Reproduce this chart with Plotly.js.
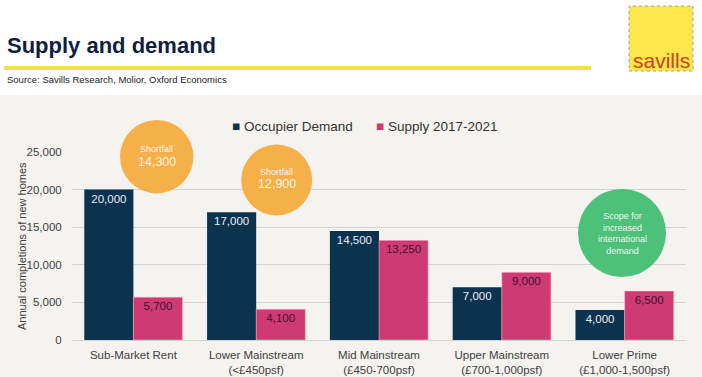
<!DOCTYPE html>
<html>
<head>
<meta charset="utf-8">
<script src="https://cdn.plot.ly/plotly-3.0.1.min.js"></script>
<style>html,body{margin:0;padding:0;background:#fff;}#chart{width:702px;height:377px;}</style>
</head>
<body>
<div id="chart"></div>
<script>
// ---- Data ----
var categories = ["Sub-Market Rent", "Lower Mainstream<br>(<£450psf)", "Mid Mainstream<br>(£450-700psf)", "Upper Mainstream<br>(£700-1,000psf)", "Lower Prime<br>(£1,000-1,500psf)"];
var seriesNames = ["Occupier Demand", "Supply 2017-2021"];
var occupierDemand = [20000, 17000, 14500, 7000, 4000];
var supply = [5700, 4100, 13250, 9000, 6500];
var yTicks = [0, 5000, 10000, 15000, 20000, 25000];
var shortfallValues = [14300, 12900];

// ---- Layout geometry helpers (pixels -> paper) ----
var W = 702, H = 377, ML = 72, MR = 16, MT = 152, MB = 37;
var PW = W - ML - MR, PH = H - MT - MB;
function X(px) { return (px - ML) / PW; }
function Y(py) { return (MT + PH - py) / PH; }

var navy = "#0b3350", pink = "#d03a72", orange = "#f5b04a", green = "#4dc07a";
var font = "Liberation Sans, Arial, sans-serif";

function fmt(v) { return v.toLocaleString("en-GB"); }

var traces = [
  {
    type: "bar", name: seriesNames[0], x: categories, y: occupierDemand,
    marker: {color: navy},
    text: occupierDemand.map(fmt), textposition: "inside", insidetextanchor: "end",
    textangle: 0, constraintext: "none",
    textfont: {family: font, size: 11.5, color: "#e8eef2"},
    hoverinfo: "y"
  },
  {
    type: "bar", name: seriesNames[1], x: categories, y: supply,
    marker: {color: pink, line: {color: "rgba(255,200,215,0.6)", width: 0.8}},
    text: supply.map(fmt), textposition: "inside", insidetextanchor: "end",
    textangle: 0, constraintext: "none",
    textfont: {family: font, size: 11.5, color: "#3b1530"},
    hoverinfo: "y"
  }
];

function circle(cx, cy, r, color) {
  return {
    type: "circle", xref: "paper", yref: "paper",
    xsizemode: "pixel", ysizemode: "pixel",
    xanchor: X(cx), yanchor: Y(cy),
    x0: -r, x1: r, y0: -r, y1: r,
    fillcolor: color, line: {width: 0}, layer: "above"
  };
}

function ann(text, px, py, opts) {
  var a = {
    text: text, xref: "paper", yref: "paper", x: X(px), y: Y(py),
    showarrow: false, xanchor: "center", yanchor: "middle",
    font: {family: font, size: 12, color: "#333"}
  };
  for (var k in opts) a[k] = opts[k];
  return a;
}

var shapes = [
  // beige chart background
  {type: "rect", xref: "paper", yref: "paper", x0: X(0), x1: X(W), y0: Y(H), y1: Y(95),
   fillcolor: "#f5f3ef", line: {width: 0}, layer: "below"},
  // yellow rule under title
  {type: "rect", xref: "paper", yref: "paper", x0: X(4), x1: X(591), y0: Y(70), y1: Y(66),
   fillcolor: "#f6df4c", line: {width: 0}, layer: "below"},
  // savills logo box
  {type: "rect", xref: "paper", yref: "paper", x0: X(629), x1: X(693), y0: Y(71), y1: Y(6),
   fillcolor: "#fde64b", line: {color: "#a0a0a0", width: 1, dash: "dot"}, layer: "below"},
  circle(156.7, 156.7, 36.7, orange),
  circle(276.7, 180, 35.5, orange),
  circle(622, 233, 44, green)
];

var annotations = [
  ann("<b>Supply and demand</b>", 5, 45, {xanchor: "left", font: {family: font, size: 22, color: "#0f1f3d"}}),
  ann("Source: Savills Research, Molior, Oxford Economics", 5, 80, {xanchor: "left", font: {family: font, size: 9.5, color: "#222"}}),
  ann("savills", 661, 60, {font: {family: font, size: 21, color: "#c9431c"}}),
  // legend
  ann('<span style="color:' + navy + '">■</span> ' + seriesNames[0], 230, 127, {xanchor: "left", font: {family: font, size: 13.5, color: "#333"}}),
  ann('<span style="color:' + pink + '">■</span> ' + seriesNames[1], 374, 127, {xanchor: "left", font: {family: font, size: 13.5, color: "#333"}}),
  // y axis title
  ann("Annual completions of new homes", 22, 246, {textangle: -90, font: {family: font, size: 11, color: "#404040"}}),
  // circle texts
  ann("Shortfall", 156.7, 149, {font: {family: font, size: 9, color: "rgba(255,255,255,0.9)"}}),
  ann(fmt(shortfallValues[0]), 156.7, 162, {font: {family: font, size: 12.5, color: "rgba(255,255,255,0.9)"}}),
  ann("Shortfall", 276.7, 172, {font: {family: font, size: 9, color: "rgba(255,255,255,0.9)"}}),
  ann(fmt(shortfallValues[1]), 276.7, 184, {font: {family: font, size: 12.5, color: "rgba(255,255,255,0.9)"}}),
  ann("Scope for<br>increased<br>international<br>demand", 622, 233, {font: {family: font, size: 9, color: "rgba(255,255,255,0.95)"}})
];

var layout = {
  width: W, height: H,
  margin: {l: ML, r: MR, t: MT, b: MB, pad: 0},
  paper_bgcolor: "#ffffff", plot_bgcolor: "rgba(0,0,0,0)",
  barmode: "group", bargap: 0.2, bargroupgap: 0,
  showlegend: false,
  font: {family: font, color: "#404040"},
  xaxis: {
    type: "category", showgrid: false, showline: false, zeroline: false,
    ticks: "outside", ticklen: 4, tickcolor: "rgba(0,0,0,0)",
    tickfont: {family: font, size: 11.5, color: "#404040"},
    fixedrange: true
  },
  yaxis: {
    range: [0, 25000], tickvals: yTicks, ticktext: yTicks.map(fmt),
    showgrid: true, gridcolor: "#d2d2d2", gridwidth: 1,
    zeroline: true, zerolinecolor: "#d2d2d2", zerolinewidth: 1,
    showline: false, ticks: "outside", ticklen: 7, tickcolor: "rgba(0,0,0,0)",
    tickfont: {family: font, size: 11.5, color: "#404040"},
    fixedrange: true
  },
  shapes: shapes,
  annotations: annotations
};

Plotly.newPlot("chart", traces, layout, {displayModeBar: false, staticPlot: true});
</script>
</body>
</html>
